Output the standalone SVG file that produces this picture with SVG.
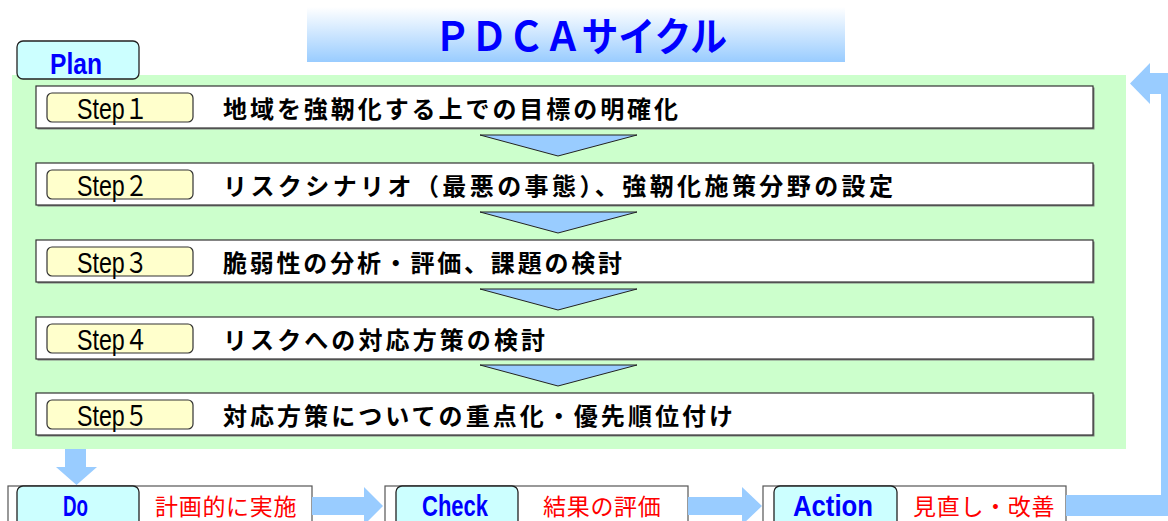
<svg xmlns="http://www.w3.org/2000/svg" width="1168" height="521" viewBox="0 0 1168 521">
<defs>
<linearGradient id="tg" x1="0" y1="0" x2="0" y2="1">
<stop offset="0" stop-color="#ffffff"/>
<stop offset="1" stop-color="#99ccff"/>
</linearGradient>
</defs>
<style>
.stepbox{fill:#ffffff;stroke:#333333;stroke-width:1.2}
.shadow{fill:#808080}
.steplbl{fill:#ffffcc;stroke:#333333;stroke-width:1.2}
.steptxt{font-family:"Liberation Sans","Noto Sans CJK JP",sans-serif;font-size:29px;fill:#000000}
.main{font-family:"Noto Sans CJK JP",sans-serif;font-size:24px;font-weight:bold;fill:#000000}
.tab{fill:#ccffff;stroke:#222222;stroke-width:1.3}
.tabtxt{font-family:"Liberation Sans",sans-serif;font-size:30px;font-weight:bold;fill:#0000ff}
.red{font-family:"Noto Sans CJK JP",sans-serif;font-size:23px;fill:#ff0000;letter-spacing:0.7px}
.outer{fill:#ffffff;stroke:#555555;stroke-width:1.2}
.tri{fill:#99ccff;stroke:#222222;stroke-width:1}
.arrow{fill:#99ccff}
</style>
<g id="title">
<rect x="307" y="7" width="538" height="55" fill="url(#tg)"/>
<text x="434" y="51" textLength="293" lengthAdjust="spacingAndGlyphs" font-family="'Noto Sans CJK JP',sans-serif" font-size="40" font-weight="bold" fill="#0000ff">ＰＤＣＡサイクル</text>
</g>
<g id="plan">
<rect x="12" y="75" width="1114" height="374" fill="#ccffcc"/>
<rect class="tab" x="17" y="41" width="122" height="38" rx="6"/>
<text class="tabtxt" x="50" y="74" textLength="52" lengthAdjust="spacingAndGlyphs">Plan</text>
</g>
<g id="step1">
<rect class="shadow" x="37.5" y="87.5" width="1057" height="42"/>
<rect class="stepbox" x="36" y="86" width="1057" height="42"/>
<rect class="steplbl" x="47" y="93" width="146" height="29" rx="5"/>
<text class="steptxt" x="77" y="119" textLength="71" lengthAdjust="spacingAndGlyphs">Step１</text>
<text class="main" x="223" y="117.5" textLength="455" lengthAdjust="spacing">地域を強靭化する上での目標の明確化</text>
</g>
<g id="step2">
<rect class="shadow" x="37.5" y="164.5" width="1057" height="42"/>
<rect class="stepbox" x="36" y="163" width="1057" height="42"/>
<rect class="steplbl" x="47" y="170" width="146" height="29" rx="5"/>
<text class="steptxt" x="77" y="196" textLength="71" lengthAdjust="spacingAndGlyphs">Step２</text>
<text class="main" x="223" y="194.5" textLength="670" lengthAdjust="spacing">リスクシナリオ（最悪の事態）、強靭化施策分野の設定</text>
</g>
<g id="step3">
<rect class="shadow" x="37.5" y="241.5" width="1057" height="42"/>
<rect class="stepbox" x="36" y="240" width="1057" height="42"/>
<rect class="steplbl" x="47" y="247" width="146" height="29" rx="5"/>
<text class="steptxt" x="77" y="273" textLength="71" lengthAdjust="spacingAndGlyphs">Step３</text>
<text class="main" x="223" y="271.5" textLength="399" lengthAdjust="spacing">脆弱性の分析・評価、課題の検討</text>
</g>
<g id="step4">
<rect class="shadow" x="37.5" y="318.5" width="1057" height="42"/>
<rect class="stepbox" x="36" y="317" width="1057" height="42"/>
<rect class="steplbl" x="47" y="324" width="146" height="29" rx="5"/>
<text class="steptxt" x="77" y="350" textLength="71" lengthAdjust="spacingAndGlyphs">Step４</text>
<text class="main" x="223" y="348.5" textLength="322" lengthAdjust="spacing">リスクへの対応方策の検討</text>
</g>
<g id="step5">
<rect class="shadow" x="37.5" y="394.5" width="1057" height="42"/>
<rect class="stepbox" x="36" y="393" width="1057" height="42"/>
<rect class="steplbl" x="47" y="400" width="146" height="29" rx="5"/>
<text class="steptxt" x="77" y="426" textLength="71" lengthAdjust="spacingAndGlyphs">Step５</text>
<text class="main" x="223" y="424.5" textLength="510" lengthAdjust="spacing">対応方策についての重点化・優先順位付け</text>
</g>
<g id="do">
<rect class="outer" x="8" y="486" width="304" height="50"/>
<rect class="tab" x="17" y="486" width="122" height="50" rx="6"/>
<text class="tabtxt" x="63" y="516" textLength="25" lengthAdjust="spacingAndGlyphs">Do</text>
<text class="red" x="155" y="515">計画的に実施</text>
</g>
<g id="check">
<rect class="outer" x="385" y="486" width="303" height="50"/>
<rect class="tab" x="396" y="486" width="122" height="50" rx="6"/>
<text class="tabtxt" x="422" y="516" textLength="66" lengthAdjust="spacingAndGlyphs">Check</text>
<text class="red" x="543" y="515">結果の評価</text>
</g>
<g id="action">
<rect class="outer" x="763" y="486" width="303" height="50"/>
<rect class="tab" x="774" y="486" width="123" height="50" rx="6"/>
<text class="tabtxt" x="793" y="516" textLength="80" lengthAdjust="spacingAndGlyphs">Action</text>
<text class="red" x="913" y="515">見直し・改善</text>
</g>
<g id="connectors">
<polygon class="tri" points="480,135 637,135 558,156"/>
<polygon class="tri" points="480,212 637,212 558,233"/>
<polygon class="tri" points="480,289 637,289 558,310"/>
<polygon class="tri" points="480,365 637,365 558,386"/>
<polygon class="arrow" points="65,449 86,449 86,467 97,467 76.5,485 56,467 65,467"/>
<polygon class="arrow" points="312,497 364,497 364,487 383,506 364,525 364,515 312,515"/>
<polygon class="arrow" points="688,497 742,497 742,487 762,506 742,525 742,515 688,515"/>
<path d="M1066,505.5 H1171.5 V83.5 H1149" fill="none" stroke="#99ccff" stroke-width="21"/>
<polygon class="arrow" points="1150,63 1130,83.5 1150,104"/>
</g>
</svg>
